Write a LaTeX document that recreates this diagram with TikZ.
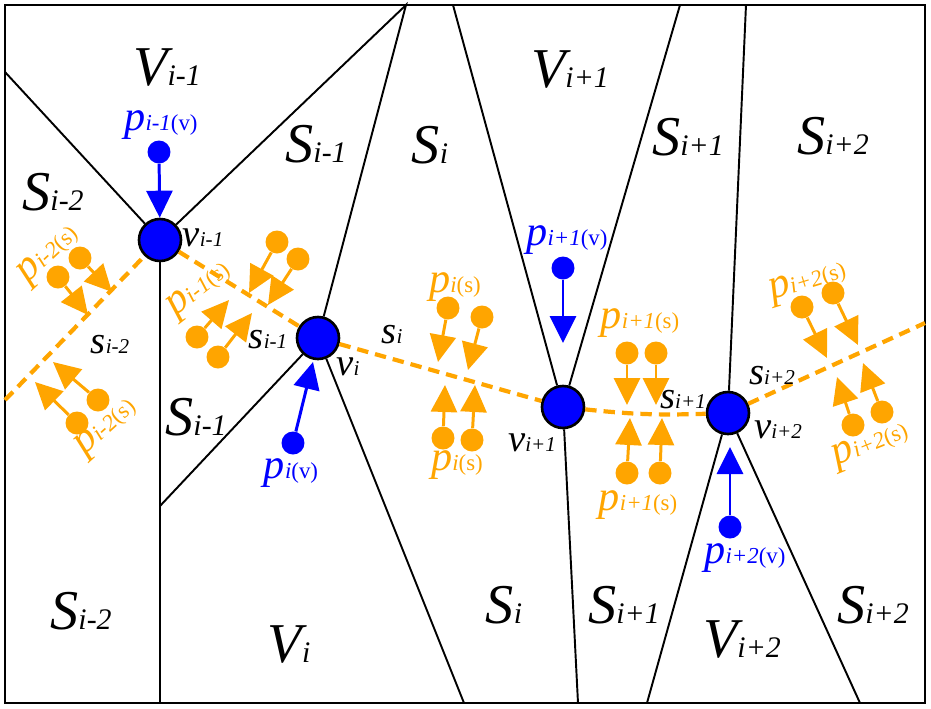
\documentclass[tikz,border=0pt]{standalone}
\usepackage{fontspec}
\setmainfont{Liberation Serif}
\usetikzlibrary{arrows.meta,positioning}
\definecolor{seamorange}{RGB}{255,165,0}
\definecolor{ptblue}{RGB}{0,0,255}
\newcommand{\bigreg}[2]{{\fontsize{32}{32}\selectfont\itshape #1\fontsize{17}{17}\selectfont #2}}
\newcommand{\smlab}[2]{{\fontsize{22}{22}\selectfont\itshape #1\fontsize{12}{12}\selectfont #2}}
\newcommand{\ptlab}[2]{{\fontsize{24}{24}\selectfont\itshape p\fontsize{13}{13}\selectfont #1\upshape(#2)}}
\tikzset{
	vtx/.style={circle,draw=black,fill=ptblue,line width=1.5pt,minimum size=0.84cm,inner sep=0pt},
	bdot/.style={circle,fill=ptblue,minimum size=0.46cm,inner sep=0pt},
	odot/.style={circle,fill=seamorange,minimum size=0.46cm,inner sep=0pt},
	cell/.style={line width=1.1pt},
	seam/.style={seamorange,line width=2.4pt,dash pattern=on 6.5pt off 4pt},
	parr/.style={line width=1.7pt,-{Triangle[length=0.54cm,width=0.52cm]}},
	lbl/.style={inner sep=0pt},
}

\begin{document}
\begin{tikzpicture}[x=0.02cm,y=-0.02cm]
		
		\useasboundingbox (0,0) rectangle (931,708);
		
		\node[vtx] (v1) at (160,240) {};
		\node[vtx] (v2) at (318,338) {};
		\node[vtx] (v3) at (563,407) {};
		\node[vtx] (v4) at (728,413) {};
		
		\coordinate (a1) at (5,72);
		\coordinate (t1) at (406,5);
		\coordinate (t2) at (453,5);
		\coordinate (t3) at (680,5);
		\coordinate (t4) at (746,5);
		\coordinate (b1) at (160,703);
		\coordinate (b2) at (464,703);
		\coordinate (b3) at (578,703);
		\coordinate (b4) at (647,703);
		\coordinate (b5) at (860,703);
		\coordinate (l1) at (160,506);
		\coordinate (e1) at (5,400);
		\coordinate (e2) at (925,323);
		
		\draw[line width=1.4pt] (5,5) rectangle (925,703);
		
		\draw[cell] (a1) -- (v1) -- (t1) -- (v2);
		\draw[cell] (v1) -- (b1);
		\draw[cell] (v2) -- (l1);
		\draw[cell] (v2) -- (b2);
		\draw[cell] (t2) -- (v3) -- (t3);
		\draw[cell] (v3) -- (b3);
		\draw[cell] (t4) -- (v4);
		\draw[cell] (b4) -- (v4) -- (b5);
		
		\draw[seam] (e1) -- (v1);
		\draw[seam] (v1) -- (v2);
		\draw[seam] (v2) -- (v3);
		\draw[seam] (v3) to[bend right=4] (v4);
		\draw[seam] (v4) -- (e2);
		
		\foreach \n/\dx/\dy/\tx/\ty in {
			1/58/277/88/315, 2/80/258/112/292, 3/77/423/35/382, 4/98/400/53/362,
			5/277/242/249/293, 6/298/259/268/305, 7/197/337/229/300, 8/218/357/252/313,
			9/448/308/438/362, 10/482/317/468/370, 11/443/438/445/385, 12/472/440/475/385,
			13/627/353/627/405, 14/656/353/656/405, 15/627/473/630/418, 16/660/473/662/418,
			17/802/307/827/358, 18/833/293/858/345, 19/853/425/837/377, 20/882/412/863/363} {
			\node[odot] (d\n) at (\dx,\dy) {};
			\coordinate (t\n) at (\tx,\ty);
			\draw[parr,seamorange] (d\n) -- (t\n);
		}
		
		\node[bdot] (pv1) at (159,152) {};
		\node[bdot] (pv2) at (293,443) {};
		\node[bdot] (pv3) at (563,268) {};
		\node[bdot] (pv4) at (730,527) {};
		\coordinate (q2) at (313,362);
		\coordinate (q3) at (563,343);
		\coordinate (q4) at (730,447);
		\draw[parr,ptblue] (pv1) -- (v1);
		\draw[parr,ptblue] (pv2) -- (q2);
		\draw[parr,ptblue] (pv3) -- (q3);
		\draw[parr,ptblue] (pv4) -- (q4);
		
		% region names
		\node[lbl] (rV1) at (167,68) {\bigreg{V}{i-1}};
		\node[lbl] (rS1) at (316,144) {\bigreg{S}{i-1}};
		\node[lbl] (rS2) at (430,145) {\bigreg{S}{i}};
		\node[lbl] (rV3) at (570,70) {\bigreg{V}{i+1}};
		\node[lbl] (rS3) at (688,137) {\bigreg{S}{i+1}};
		\node[lbl] (rS4) at (833,136) {\bigreg{S}{i+2}};
		\node[lbl] (rS0) at (53,192) {\bigreg{S}{i-2}};
		\node[lbl] (rS1b) at (196,417) {\bigreg{S}{i-1}};
		\node[lbl] (rS0b) at (81,611) {\bigreg{S}{i-2}};
		\node[lbl] (rV2) at (289,645) {\bigreg{V}{i}};
		\node[lbl] (rS2b) at (504,605) {\bigreg{S}{i}};
		\node[lbl] (rS3b) at (624,605) {\bigreg{S}{i+1}};
		\node[lbl] (rV4) at (742,640) {\bigreg{V}{i+2}};
		\node[lbl] (rS4b) at (873,605) {\bigreg{S}{i+2}};
		
		% seams and vertices
		\node[lbl] (s0) at (110,345) {\smlab{s}{i-2}};
		\node[lbl] (s1) at (268,340) {\smlab{s}{i-1}};
		\node[lbl] (s2) at (392,335) {\smlab{s}{i}};
		\node[lbl] (s3) at (683,400) {\smlab{s}{i+1}};
		\node[lbl] (s4) at (772,376) {\smlab{s}{i+2}};
		\node[lbl] (n1) at (203,238) {\smlab{v}{i-1}};
		\node[lbl] (n2) at (348,367) {\smlab{v}{i}};
		\node[lbl] (n3) at (532,443) {\smlab{v}{i+1}};
		\node[lbl] (n4) at (778,430) {\smlab{v}{i+2}};
		
		% points
		\node[lbl,text=ptblue] (lv1) at (161,125) {\ptlab{i-1}{v}};
		\node[lbl,text=ptblue] (lv2) at (291,473) {\ptlab{i}{v}};
		\node[lbl,text=ptblue] (lv3) at (567,240) {\ptlab{i+1}{v}};
		\node[lbl,text=ptblue] (lv4) at (745,558) {\ptlab{i+2}{v}};
		\node[lbl,text=seamorange,rotate=43] (ls0) at (50,255) {\ptlab{i-2}{s}};
		\node[lbl,text=seamorange,rotate=42] (ls0b) at (107,428) {\ptlab{i-2}{s}};
		\node[lbl,text=seamorange,rotate=38] (ls1) at (200,290) {\ptlab{i-1}{s}};
		\node[lbl,text=seamorange] (ls2) at (455,287) {\ptlab{i}{s}};
		\node[lbl,text=seamorange] (ls2b) at (457,465) {\ptlab{i}{s}};
		\node[lbl,text=seamorange] (ls3) at (640,323) {\ptlab{i+1}{s}};
		\node[lbl,text=seamorange] (ls3b) at (638,505) {\ptlab{i+1}{s}};
		\node[lbl,text=seamorange,rotate=17] (ls4) at (808,283) {\ptlab{i+2}{s}};
		\node[lbl,text=seamorange,rotate=22] (ls4b) at (871,446) {\ptlab{i+2}{s}};
		
	\end{tikzpicture}
\end{document}
